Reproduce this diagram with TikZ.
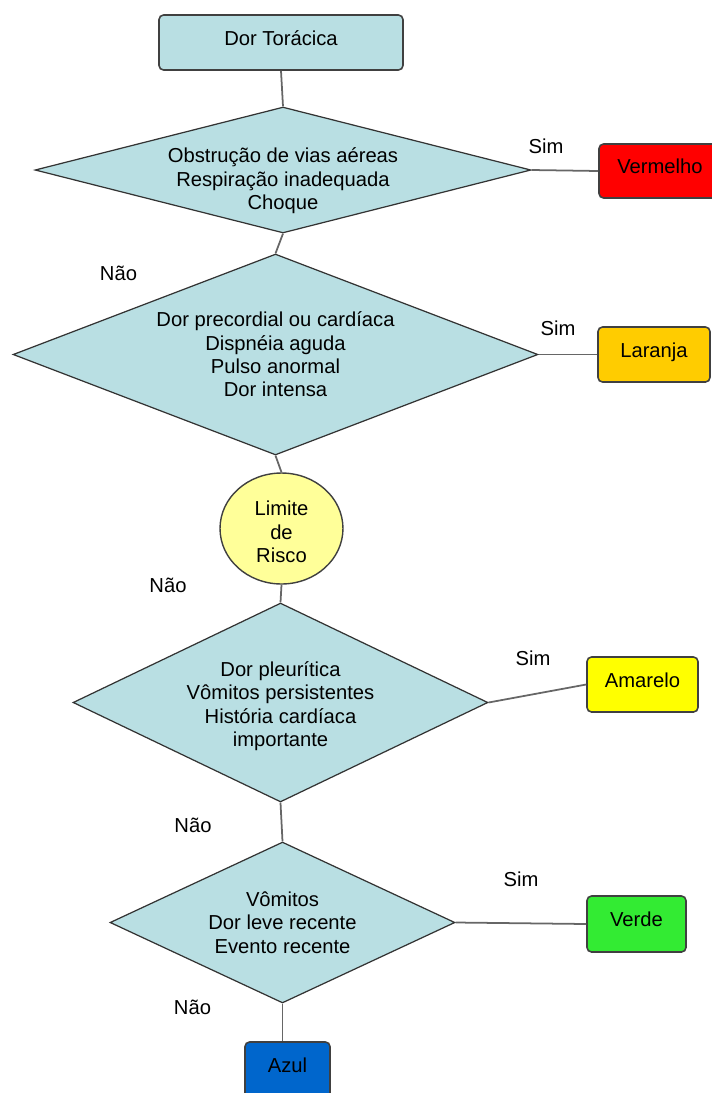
\documentclass[tikz,border=0pt]{standalone}
\usepackage{fontspec}
\setmainfont{Liberation Sans}
\usetikzlibrary{shapes.geometric}
\definecolor{caixa}{RGB}{185,223,227}
\definecolor{risco}{RGB}{255,255,153}
\definecolor{vermelho}{RGB}{255,0,0}
\definecolor{laranja}{RGB}{255,204,0}
\definecolor{amarelo}{RGB}{255,255,0}
\definecolor{verde}{RGB}{51,235,51}
\definecolor{azul}{RGB}{0,102,204}
\begin{document}
\begin{tikzpicture}[x=0.02cm,y=-0.02cm,
  font=\fontsize{11.5}{13.3}\selectfont,
  caixa/.style={draw=black!75,line width=0.9pt,rounded corners=0.09cm,minimum height=1.1cm,inner sep=0pt,text height=8.5pt,text depth=5.5pt},
  decisao/.style={diamond,draw=black!80,line width=0.7pt,fill=caixa,inner sep=0pt},
  texto/.style={align=center,inner sep=0pt},
  rotulo/.style={inner sep=0pt},
  liga/.style={draw=black!60,line width=1pt}]
 \clip (0,0) rectangle (712,1093);
 % caixas
 \node[caixa,fill=caixa,minimum width=4.88cm] (inicio) at (281,42.5) {Dor Torácica};
 \node[caixa,fill=vermelho,minimum width=2.44cm,minimum height=1.08cm] (vermelho) at (660,171) {Vermelho};
 \node[caixa,fill=laranja,minimum width=2.24cm] (laranja) at (654,354.5) {Laranja};
 \node[caixa,fill=amarelo,minimum width=2.22cm] (amarelo) at (642.5,684.5) {Amarelo};
 \node[caixa,fill=verde,minimum width=1.98cm,minimum height=1.12cm] (verde) at (636.5,924) {Verde};
 \node[caixa,fill=azul,minimum width=1.7cm,minimum height=1.12cm] (azul) at (287.5,1070) {Azul};
 \node[ellipse,draw=black!75,line width=0.8pt,fill=risco,minimum width=2.46cm,minimum height=2.22cm,inner sep=0pt,
   label={[texto,yshift=-0.07cm]center:Limite\\de\\Risco}] (risco) at (281.5,528.5) {};
 % decisoes
 \node[decisao,minimum width=9.92cm,minimum height=2.52cm,
   label={[texto,yshift=-0.22cm]center:Obstrução de vias aéreas\\Respiração inadequada\\Choque}] (d1) at (283,170) {};
 \node[decisao,minimum width=10.5cm,minimum height=4.02cm,
   label={[texto]center:Dor precordial ou cardíaca\\Dispnéia aguda\\Pulso anormal\\Dor intensa}] (d2) at (275.5,354.5) {};
 \node[decisao,minimum width=8.3cm,minimum height=3.98cm,
   label={[texto,yshift=-0.07cm]center:Dor pleurítica\\Vômitos persistentes\\História cardíaca\\importante}] (d3) at (280.5,702.5) {};
 \node[decisao,minimum width=6.9cm,minimum height=3.22cm,
   label={[texto]center:Vômitos\\Dor leve recente\\Evento recente}] (d4) at (282.5,922.5) {};
 % ligacoes
 \draw[liga] (inicio.south) -- (d1.north);
 \draw[liga] (d1.east) -- (vermelho.west);
 \draw[liga] (d1.south) -- (d2.north);
 \draw[liga] (d2.east) -- (laranja.west);
 \draw[liga] (d2.south) -- (risco.north);
 \draw[liga] (risco.south) -- (d3.north);
 \draw[liga] (d3.east) -- (amarelo.west);
 \draw[liga] (d3.south) -- (d4.north);
 \draw[liga] (d4.east) -- (verde.west);
 \draw[liga] (d4.south) -- (d4.south |- azul.north);
 % rotulos
 \node[rotulo] (sim1) at (546,146) {Sim};
 \node[rotulo] (sim2) at (558,328) {Sim};
 \node[rotulo] (sim3) at (533,658) {Sim};
 \node[rotulo] (sim4) at (521,879) {Sim};
 \node[rotulo] (nao1) at (118.5,273) {Não};
 \node[rotulo] (nao2) at (168,585) {Não};
 \node[rotulo] (nao3) at (193,825) {Não};
 \node[rotulo] (nao4) at (192.5,1007) {Não};
\end{tikzpicture}
\end{document}
